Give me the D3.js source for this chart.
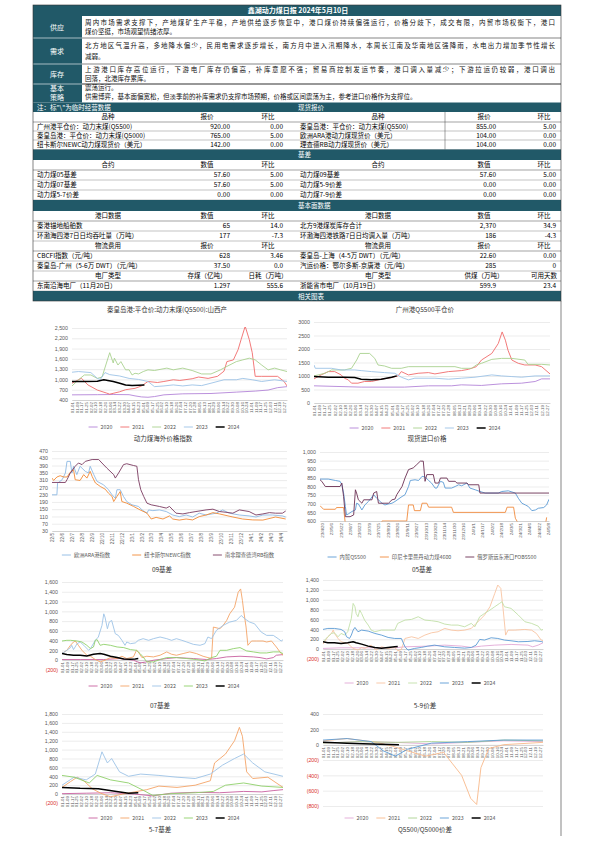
<!DOCTYPE html>
<html>
<head>
<meta charset="utf-8">
<script src="https://cdn.jsdelivr.net/npm/d3@7"></script>
<style>
body { margin: 0; background: #fff; }
svg { display: block; font-family: "Noto Sans CJK SC", "Noto Sans", sans-serif; }
</style>
</head>
<body>
<svg id="page" width="595" height="842"></svg>
<script>
// ---------- text of the report ----------
const reportTitle = "鑫湖动力煤日报 2024年5月10日";
const summaryLabels = [["供应"], ["需求"], ["库存"], ["基本", "策略"]];
const summaryLines = [
  ["周内市场需求支撑下，产地煤矿生产平稳，产地供给逐步恢复中，港口煤价持续偏强运行，价格分歧下，成交有限，内贸市场权衡下，港口", "煤价坚挺，市场观望情绪浓厚。"],
  ["北方地区气温升高，多地降水偏少，民用电需求逐步增长，南方月中进入汛期降水，本周长江南及华南地区强降雨，水电出力增加季节性增长", "减弱。"],
  ["上游港口库存高位运行，下游电厂库存仍偏高，补库意愿不强；贸易商控制发运节奏，港口调入量减少；下游拉运仍较弱，港口调出", "回落，北港库存累库。"],
  ["震荡运行。", "供需博弈，基本面偏宽松，但淡季前的补库需求仍支撑市场预期，价格或区间震荡为主，参考进口价格作为支撑位。"]
];
const noteText = "注：标\"\\\"为临时经营数据";

// ---------- tables ----------
const spotHead = ["品种", "报价", "环比"];
const spotRows = [
  ["广州港平仓价：动力末煤(Q5500)", "920.00", "0.00", "秦皇岛港：平仓价：动力末煤(Q5500)", "855.00", "5.00"],
  ["秦皇岛港：平仓价：动力末煤(Q5000)", "765.00", "5.00", "欧洲ARA港动力煤现货价（美元）", "104.00", "0.00"],
  ["纽卡斯尔NEWC动力煤现货价（美元）", "142.00", "0.00", "理查德RB动力煤现货价（美元）", "104.00", "0.00"]
];
const basisHead = ["合约", "数值", "环比"];
const basisRows = [
  ["动力煤05基差", "57.60", "5.00", "动力煤09基差", "57.60", "5.00"],
  ["动力煤07基差", "57.60", "5.00", "动力煤5-9价差", "0.00", "0.00"],
  ["动力煤5-7价差", "0.00", "0.00", "动力煤7-9价差", "0.00", "0.00"]
];
const portHead = ["港口数据", "数值", "环比"];
const portRows = [
  ["秦港锚地船舶数", "65", "14.0", "北方9港煤炭库存合计", "2,370", "34.9"],
  ["环渤海四港7日日均吞吐量（万吨）", "177", "-7.3", "环渤海四港铁路7日日均调入量（万吨）", "186", "-4.3"]
];
const freightHead = ["物流费用", "报价", "环比"];
const freightRows = [
  ["CBCFI指数（元/吨）", "628", "3.46", "秦皇岛-上海（4-5万 DWT）（元/吨）", "22.60", "0.00"],
  ["秦皇岛-广州（5-6万 DWT）（元/吨）", "37.50", "0.0", "汽运价格：鄂尔多斯-京唐港（元/吨）", "285", "0"]
];
const plantHeadL = ["电厂类型", "存煤（亿吨）", "日耗（万吨）"];
const plantHeadR = ["电厂类型", "供煤（万吨）", "可用天数"];
const plantRows = [
  ["东南沿海电厂（11月20日）", "1.297", "555.6", "浙能省市电厂（10月19日）", "599.9", "23.4"]
];

// ---------- chart data ----------
const seasonTicks = ["01-01","01-09","01-17","01-25","02-02","02-10","02-18","02-26","03-06","03-14","03-22","03-30","04-07","04-15","04-23","05-01","05-09","05-17","05-25","06-02","06-10","06-18","06-26","07-04","07-12","07-20","07-28","08-05","08-13","08-21","08-29","09-06","09-14","09-22","09-30","10-08","10-16","10-24","11-01","11-09","11-17","11-25","12-03","12-11","12-19","12-27"];
const years = ["2020", "2021", "2022", "2023", "2024"];

// 秦皇岛港 Q5500 山西产 [day of year, price]
const qhd2020 = [[0,550],[43,555],[70,560],[97,555],[107,520],[118,490],[129,480],[140,500],[156,550],[188,580],[236,590],[279,630],[311,660],[333,690],[349,760],[365,790]];
const qhd2021 = [[0,890],[16,1035],[27,840],[43,690],[59,600],[64,570],[81,640],[91,700],[107,740],[118,810],[129,940],[145,910],[156,940],[172,990],[183,970],[204,1020],[215,1070],[231,1030],[247,1090],[258,1240],[263,1520],[274,1570],[282,1870],[287,2160],[294,2550],[301,2160],[306,1780],[311,1090],[322,1090],[349,1090],[360,940],[365,810]];
const qhd2022 = [[0,810],[11,990],[21,1130],[32,1130],[43,1030],[51,1070],[64,1780],[70,1480],[72,1620],[78,1420],[83,1520],[91,1280],[97,1280],[102,1130],[107,1180],[113,1160],[121,1230],[129,1280],[140,1260],[161,1330],[172,1280],[188,1330],[204,1260],[220,1160],[236,1160],[252,1280],[263,1380],[279,1520],[290,1570],[301,1620],[311,1570],[322,1420],[333,1280],[344,1330],[354,1280],[365,1230]];
const qhd2023 = [[0,1210],[11,1230],[32,1200],[43,1030],[48,1000],[56,1200],[64,1140],[81,1100],[97,1030],[113,1000],[129,940],[140,790],[156,810],[172,840],[188,810],[204,840],[220,820],[236,890],[258,990],[279,990],[290,1030],[306,990],[322,940],[344,990],[365,940]];
const qhd2024 = [[0,940],[21,940],[43,950],[54,990],[70,940],[81,890],[91,840],[102,820],[113,830],[123,840]];

// 广州港 Q5500 平仓价
const gz2020 = [[0,636],[73,588],[140,588],[177,636],[213,636],[228,673],[259,650],[290,710],[321,734],[342,796],[352,893],[365,893]];
const gz2021 = [[0,893],[11,1040],[22,1163],[32,1163],[42,1040],[47,918],[53,857],[58,734],[68,734],[78,796],[89,796],[104,881],[120,942],[130,1004],[135,1163],[146,1040],[161,1101],[177,1126],[187,1077],[208,1163],[228,1200],[239,1248],[251,1346],[259,1591],[275,1836],[285,2203],[291,2632],[296,2326],[300,1958],[306,1591],[316,1469],[326,1408],[342,1408],[352,1346],[365,1077]];
const gz2022 = [[0,1004],[17,1101],[27,1224],[47,1224],[58,1285],[66,1591],[71,1836],[86,1836],[94,1652],[99,1408],[109,1371],[120,1285],[135,1285],[146,1346],[218,1346],[228,1285],[244,1285],[251,1408],[259,1469],[275,1616],[290,1652],[306,1652],[326,1591],[331,1432],[352,1432],[365,1408]];
const gz2023 = [[0,1408],[2,1285],[27,1285],[42,1224],[63,1224],[73,1200],[89,1163],[109,1126],[125,1101],[135,955],[146,857],[156,918],[187,918],[208,881],[228,918],[249,955],[275,1040],[290,1004],[306,979],[321,955],[342,1004],[365,1004]];
const gz2024 = [[0,979],[22,955],[47,955],[63,942],[73,881],[89,857],[104,881],[120,955],[128,1004]];

// 动力煤海外价格指数
const intlTicks = ["22/5","22/6","22/7","22/8","22/9","22/10","22/11","22/12","23/1","23/2","23/3","23/4","23/5","23/6","23/7","23/8","23/9","23/10","23/11","23/12","24/1","24/2","24/3","24/4"];
const intlNames = ["欧洲ARA港指数", "纽卡斯尔NEWC指数", "南非理查德湾RB指数"];
const intlAra = [["2022-05-01",229],["2022-05-16",229],["2022-05-18",293],["2022-06-01",312],["2022-06-11",349],["2022-06-16",413],["2022-06-26",413],["2022-07-01",349],["2022-07-06",386],["2022-07-16",340],["2022-07-26",386],["2022-08-11",358],["2022-08-21",349],["2022-08-26",386],["2022-09-06",340],["2022-09-16",303],["2022-10-06",284],["2022-10-21",257],["2022-11-01",229],["2022-11-11",210],["2022-11-16",257],["2022-11-26",257],["2022-12-06",220],["2022-12-16",192],["2023-01-01",174],["2023-01-21",165],["2023-02-01",146],["2023-02-16",128],["2023-02-21",146],["2023-03-06",142],["2023-03-26",146],["2023-04-16",137],["2023-05-06",118],["2023-05-26",109],["2023-06-16",118],["2023-07-06",107],["2023-07-26",128],["2023-08-16",118],["2023-09-16",128],["2023-10-06",146],["2023-10-26",128],["2023-11-26",118],["2023-12-26",113],["2024-01-16",107],["2024-02-06",118],["2024-03-06",118],["2024-04-06",113],["2024-04-16",107]];
const intlNewc = [["2022-05-01",321],["2022-05-06",308],["2022-05-16",327],["2022-05-26",334],["2022-06-06",327],["2022-06-16",327],["2022-06-26",353],["2022-07-06",367],["2022-07-11",312],["2022-07-26",308],["2022-08-06",340],["2022-08-16",321],["2022-08-26",358],["2022-09-01",330],["2022-09-11",294],["2022-09-26",275],["2022-10-11",260],["2022-10-21",238],["2022-11-01",220],["2022-11-06",192],["2022-11-16",220],["2022-11-26",247],["2022-12-01",192],["2022-12-16",183],["2023-01-06",165],["2023-01-26",146],["2023-02-16",128],["2023-03-01",96],["2023-03-16",105],["2023-04-06",96],["2023-04-26",113],["2023-05-06",96],["2023-05-26",90],["2023-06-16",96],["2023-07-06",91],["2023-07-26",109],["2023-08-16",118],["2023-09-06",131],["2023-09-26",124],["2023-11-06",107],["2023-12-06",96],["2024-01-06",91],["2024-02-06",90],["2024-03-16",107],["2024-04-16",96]];
const intlRb = [["2022-05-01",297],["2022-06-11",297],["2022-06-16",312],["2022-06-26",349],["2022-07-11",386],["2022-07-21",404],["2022-08-01",395],["2022-08-11",413],["2022-09-01",423],["2022-09-21",423],["2022-10-01",404],["2022-10-16",376],["2022-11-06",340],["2022-11-11",321],["2022-11-21",349],["2022-12-06",395],["2022-12-16",400],["2023-01-06",390],["2023-01-16",386],["2023-01-21",312],["2023-01-28",257],["2023-02-06",220],["2023-02-16",183],["2023-03-01",174],["2023-03-26",165],["2023-04-16",156],["2023-04-26",165],["2023-05-16",128],["2023-06-06",124],["2023-06-26",131],["2023-07-16",137],["2023-08-16",146],["2023-09-06",150],["2023-09-26",137],["2023-10-16",133],["2023-11-06",128],["2023-11-26",146],["2023-12-26",137],["2024-01-16",118],["2024-02-06",124],["2024-02-26",131],["2024-03-16",128],["2024-04-06",128],["2024-04-16",140]];

// 现货进口价格
const impTicks = ["23/4/20","23/5/6","23/5/22","23/6/7","23/6/23","23/7/9","23/7/25","23/8/10","23/8/26","23/9/11","23/9/27","23/10/13","23/10/29","23/11/14","23/11/30","23/12/16","24/1/1","24/1/17","24/2/2","24/2/18","24/3/5","24/3/21","24/4/6","24/4/22","24/5/8"];
const impNames = ["内贸Q5500", "印尼卡里曼丹动力煤4600", "俄罗斯远东港口FOB5500"];
const impDom = [["2023-04-17",843],["2023-05-01",843],["2023-05-13",835],["2023-05-21",830],["2023-05-24",810],["2023-05-27",762],["2023-05-30",684],["2023-06-01",635],["2023-06-04",641],["2023-06-10",655],["2023-06-16",664],["2023-06-18",703],["2023-06-21",699],["2023-06-27",664],["2023-07-02",693],["2023-07-08",713],["2023-07-17",752],["2023-07-22",732],["2023-07-28",713],["2023-07-31",703],["2023-08-05",693],["2023-08-11",699],["2023-08-17",703],["2023-08-22",713],["2023-09-03",742],["2023-09-08",752],["2023-09-14",800],["2023-09-17",835],["2023-09-25",839],["2023-10-01",835],["2023-10-07",859],["2023-10-12",855],["2023-10-18",835],["2023-10-23",820],["2023-10-29",791],["2023-11-01",791],["2023-11-07",830],["2023-11-12",824],["2023-11-15",791],["2023-11-26",791],["2023-12-02",800],["2023-12-08",810],["2023-12-13",804],["2023-12-22",820],["2023-12-27",791],["2024-01-05",781],["2024-01-13",771],["2024-01-22",762],["2024-02-13",762],["2024-02-19",771],["2024-03-01",775],["2024-03-13",762],["2024-03-18",732],["2024-03-24",703],["2024-03-30",693],["2024-04-04",684],["2024-04-10",660],["2024-04-16",664],["2024-04-21",674],["2024-04-30",678],["2024-05-05",693],["2024-05-09",726]];
const impIndo = [["2023-04-17",689],["2023-04-23",668],["2023-05-13",668],["2023-05-15",678],["2023-05-27",678],["2023-05-30",580],["2023-06-01",560],["2023-07-28",560],["2023-07-31",600],["2023-09-11",600],["2023-09-14",693],["2023-09-22",693],["2023-09-24",660],["2023-10-04",660],["2023-10-07",703],["2023-10-15",703],["2023-10-18",680],["2023-11-26",680],["2023-11-29",650],["2024-02-25",650],["2024-02-28",680],["2024-03-10",680],["2024-03-13",616],["2024-03-16",598],["2024-03-18",560],["2024-05-02",560],["2024-05-05",621]];
const impRus = [["2023-04-17",839],["2023-04-20",830],["2023-04-26",800],["2023-05-21",800],["2023-05-24",820],["2023-05-27",742],["2023-05-30",625],["2023-06-07",625],["2023-06-13",635],["2023-06-16",781],["2023-06-18",762],["2023-06-21",723],["2023-06-27",703],["2023-06-30",723],["2023-07-14",723],["2023-07-17",762],["2023-07-22",771],["2023-07-25",703],["2023-08-11",703],["2023-08-17",723],["2023-08-22",727],["2023-08-25",752],["2023-09-03",800],["2023-09-08",849],["2023-09-14",898],["2023-09-22",908],["2023-09-28",927],["2023-10-04",947],["2023-10-09",947],["2023-10-12",830],["2023-10-15",869],["2023-10-26",869],["2023-10-29",820],["2023-11-04",820],["2023-11-07",849],["2023-11-18",849],["2023-11-21",830],["2023-12-02",830],["2023-12-05",820],["2023-12-22",820],["2023-12-25",810],["2024-01-11",810],["2024-01-13",762],["2024-05-09",762]];

// 09基差
const b09_2020 = [[0,14],[30,14],[69,14],[96,34],[118,0],[129,-54],[140,-34],[151,0],[173,34],[189,54],[217,34],[239,14],[255,34],[272,68],[294,81],[316,68],[327,54],[338,27],[349,54],[354,102],[365,115]];
const b09_2021 = [[0,136],[8,203],[14,305],[19,373],[22,393],[27,305],[33,203],[41,102],[47,81],[55,14],[63,-34],[71,0],[80,54],[91,34],[99,81],[107,34],[118,68],[123,203],[126,170],[132,54],[140,81],[151,68],[162,102],[173,170],[181,122],[189,102],[200,136],[211,170],[222,136],[233,81],[241,54],[247,34],[250,678],[261,644],[266,712],[272,814],[277,949],[285,1085],[291,1390],[295,1458],[298,1220],[300,1017],[304,678],[307,305],[313,393],[321,393],[332,393],[338,373],[346,393],[354,271],[362,136],[365,102]];
const b09_2022 = [[0,136],[8,203],[14,258],[16,305],[19,217],[25,339],[30,373],[36,305],[44,203],[47,237],[55,407],[60,475],[66,712],[69,949],[71,881],[75,644],[78,780],[82,814],[88,542],[93,508],[99,407],[104,305],[107,373],[113,339],[121,353],[126,407],[134,441],[143,407],[151,441],[162,475],[173,441],[181,407],[189,441],[198,407],[206,373],[217,325],[228,305],[236,339],[241,475],[247,441],[255,610],[266,712],[277,780],[288,814],[296,915],[302,847],[310,780],[318,746],[329,576],[338,508],[349,508],[357,441],[362,393],[365,420]];
const b09_2023 = [[0,393],[8,407],[14,407],[25,393],[33,373],[41,305],[47,237],[52,271],[55,407],[58,420],[63,305],[69,325],[80,305],[91,271],[102,258],[113,217],[123,203],[129,136],[134,68],[140,-34],[151,-34],[162,14],[173,54],[189,54],[206,34],[222,14],[236,-14],[247,54],[255,81],[261,203],[272,203],[283,237],[294,258],[305,190],[316,170],[327,149],[338,149],[349,170],[359,170],[365,136]];
const b09_2024 = [[0,136],[8,115],[19,102],[30,102],[41,88],[52,122],[63,136],[69,122],[80,81],[91,54],[102,27],[113,20],[121,27],[126,34]];

// 05基差
const b05_2020 = [[0,14],[30,27],[119,27],[136,47],[174,61],[202,81],[230,61],[246,34],[263,61],[285,81],[312,95],[340,81],[348,47],[357,81],[365,128]];
const b05_2021 = [[0,101],[8,250],[14,318],[17,385],[19,318],[25,216],[30,149],[41,115],[50,14],[58,-20],[64,34],[69,14],[80,81],[88,-20],[97,47],[108,14],[119,34],[124,-34],[130,-7],[136,216],[147,250],[158,216],[169,284],[180,331],[191,352],[202,419],[213,385],[224,372],[235,385],[246,419],[254,521],[260,588],[268,690],[277,859],[285,1129],[290,1298],[295,1230],[299,791],[303,284],[307,385],[318,385],[335,399],[346,385],[354,318],[362,183],[365,169]];
const b05_2022 = [[0,149],[8,250],[14,318],[19,331],[25,250],[30,318],[36,284],[41,352],[44,487],[47,622],[50,926],[53,859],[55,723],[58,656],[61,791],[64,723],[69,588],[75,487],[80,385],[86,352],[97,385],[108,385],[119,385],[124,521],[136,588],[147,602],[158,656],[169,588],[180,575],[191,555],[202,507],[213,487],[224,487],[235,453],[246,521],[252,453],[260,656],[268,723],[277,791],[285,859],[293,926],[297,960],[301,859],[312,825],[324,690],[335,555],[346,521],[357,466],[362,385],[365,399]];
const b05_2023 = [[0,399],[8,419],[19,419],[30,399],[36,352],[39,250],[44,216],[47,284],[50,385],[53,439],[58,352],[64,385],[75,365],[86,318],[97,284],[108,237],[119,216],[130,216],[136,47],[141,-20],[152,14],[163,34],[174,61],[185,81],[202,47],[218,34],[235,20],[246,34],[254,81],[260,196],[268,183],[279,230],[290,216],[301,183],[312,169],[324,149],[340,155],[351,169],[362,155],[365,142]];
const b05_2024 = [[0,149],[8,128],[19,128],[30,115],[41,128],[50,149],[55,128],[64,101],[75,61],[86,34],[97,20],[108,34],[119,47],[124,54]];

// 07基差
const b07_2020 = [[0,10],[40,20],[80,30],[120,0],[150,-40],[180,20],[220,40],[260,30],[300,60],[330,50],[350,80],[365,100]];
const b07_2021 = [[0,150],[14,280],[25,380],[36,300],[50,120],[64,20],[80,-60],[100,0],[120,50],[140,100],[160,180],[190,150],[220,200],[245,300],[252,700],[270,900],[285,1200],[293,1500],[298,1300],[305,500],[315,350],[340,380],[365,150]];
const b07_2022 = [[0,200],[20,380],[40,320],[55,450],[66,950],[75,700],[82,800],[95,500],[110,400],[130,450],[160,420],[190,380],[220,350],[245,450],[265,650],[285,800],[300,900],[315,700],[335,500],[365,400]];
const b07_2023 = [[0,420],[20,380],[45,250],[58,420],[80,320],[110,250],[135,80],[150,-30],[180,10],[220,30],[250,60],[270,200],[300,250],[330,180],[365,150]];
const b07_2024 = [[0,150],[30,130],[60,120],[90,60],[110,20],[126,30]];

// 5-9价差
const p59_2020 = [[0,20],[60,40],[120,30],[180,10],[240,30],[300,50],[365,40]];
const p59_2021 = [[0,50],[40,80],[90,30],[115,-20],[140,-80],[170,-150],[200,-100],[215,-250],[230,-400],[245,-700],[255,-780],[262,-300],[275,-50],[300,0],[365,30]];
const p59_2022 = [[0,20],[60,40],[120,30],[180,40],[240,30],[300,60],[365,50]];
const p59_2023 = [[0,60],[40,80],[80,40],[100,-80],[120,-150],[140,-60],[180,20],[240,40],[300,60],[365,60]];
const p59_2024 = [[0,30],[40,20],[80,10],[126,0]];

// ---------- drawing ----------
const svg = d3.select("#page");
const teal = "#215968";
const L = 33, R = 561;
const fs = "6.5px";

// title bar
svg.append("rect").attr("x", L).attr("y", 5).attr("width", R - L).attr("height", 11).attr("fill", teal);
svg.append("text").attr("x", 298).attr("y", 13).attr("text-anchor", "middle").attr("fill", "#fff")
  .style("font-size", "7px").style("font-weight", "bold").text(reportTitle);

// summary rows
const sumRows = [[16, 38], [38, 64], [64, 84], [84, 102.5]];
const sumLineY = [[25, 34], [47.5, 58.5], [71.5, 80.5], [90, 99]];
svg.append("rect").attr("x", L).attr("y", 16).attr("width", 49).attr("height", 86.5).attr("fill", teal);
sumRows.forEach((r, i) => {
  const lab = summaryLabels[i];
  const cy = (r[0] + r[1]) / 2;
  lab.forEach((t, j) => {
    svg.append("text").attr("x", 57).attr("y", cy + 2.5 + (j - (lab.length - 1) / 2) * 9)
      .attr("text-anchor", "middle").attr("fill", "#fff").style("font-size", "7px").text(t);
  });
  summaryLines[i].forEach((t, j) => {
    const tx = svg.append("text").attr("x", 85).attr("y", sumLineY[i][j]).style("font-size", fs).attr("fill", "#111").text(t);
    if (j === 0 && i < 3) tx.attr("textLength", 470).attr("lengthAdjust", "spacing");
  });
  if (i > 0) {
    svg.append("line").attr("x1", L).attr("x2", 82).attr("y1", r[0]).attr("y2", r[0]).attr("stroke", "#fff").attr("stroke-width", 0.6);
    svg.append("line").attr("x1", 82).attr("x2", R).attr("y1", r[0]).attr("y2", r[0])
      .attr("stroke", "#333").attr("stroke-width", i === 3 ? 1.2 : 0.6);
  }
});

// section bars
function bar(y0, y1, label, note) {
  svg.append("rect").attr("x", L).attr("y", y0).attr("width", R - L).attr("height", y1 - y0).attr("fill", teal);
  svg.append("text").attr("x", 298).attr("y", (y0 + y1) / 2 + 2.5).attr("fill", "#fff").style("font-size", fs).text(label);
  if (note) svg.append("text").attr("x", 37).attr("y", (y0 + y1) / 2 + 2.5).attr("fill", "#fff").style("font-size", fs).text(note);
}
const colL = { name: 37, val: 230, chg: 283, hName: 108, hVal: 207, hChg: 268 };
const colR = { name: 300, val: 496, chg: 556, hName: 378, hVal: 484, hChg: 544 };
function headRow(y0, y1, headL, headR) {
  const yy = (y0 + y1) / 2 + 2.4;
  [[colL, headL], [colR, headR]].forEach(([c, h]) => {
    svg.append("text").attr("x", c.hName).attr("y", yy).attr("text-anchor", "middle").style("font-size", fs).text(h[0]);
    svg.append("text").attr("x", c.hVal).attr("y", yy).attr("text-anchor", "middle").style("font-size", fs).text(h[1]);
    svg.append("text").attr("x", c.hChg).attr("y", yy).attr("text-anchor", "middle").style("font-size", fs).text(h[2]);
  });
  svg.append("line").attr("x1", L).attr("x2", R).attr("y1", y1).attr("y2", y1).attr("stroke", "#444").attr("stroke-width", 0.5);
}
function dataRow(y0, y1, row) {
  const yy = (y0 + y1) / 2 + 2.4;
  [[colL, row.slice(0, 3)], [colR, row.slice(3)]].forEach(([c, r]) => {
    svg.append("text").attr("x", c.name).attr("y", yy).style("font-size", fs).text(r[0]);
    svg.append("text").attr("x", c.val).attr("y", yy).attr("text-anchor", "end").style("font-size", fs).text(r[1]);
    svg.append("text").attr("x", c.chg).attr("y", yy).attr("text-anchor", "end").style("font-size", fs).text(r[2]);
  });
  svg.append("line").attr("x1", L).attr("x2", R).attr("y1", y1).attr("y2", y1).attr("stroke", "#666").attr("stroke-width", 0.4);
}

bar(102.5, 112, "现货报价", noteText);
headRow(112, 122, spotHead, spotHead);
dataRow(122, 131, spotRows[0]);
dataRow(131, 140, spotRows[1]);
dataRow(140, 149.5, spotRows[2]);
svg.append("line").attr("x1", 445).attr("x2", 445).attr("y1", 112).attr("y2", 149.5).attr("stroke", "#444").attr("stroke-width", 0.5);
bar(149.5, 160, "基差");
headRow(160, 170, basisHead, basisHead);
dataRow(170, 180, basisRows[0]);
dataRow(180, 190, basisRows[1]);
dataRow(190, 200, basisRows[2]);
bar(200, 211, "基本面数据");
headRow(211, 221, portHead, portHead);
dataRow(221, 231, portRows[0]);
dataRow(231, 241, portRows[1]);
headRow(241, 251, freightHead, freightHead);
dataRow(251, 261, freightRows[0]);
dataRow(261, 271, freightRows[1]);
headRow(271, 281, plantHeadL, plantHeadR);
dataRow(281, 291, plantRows[0]);
bar(291, 301, "相关图表");

// frame
svg.append("rect").attr("x", L).attr("y", 5).attr("width", R - L).attr("height", 296).attr("fill", "none").attr("stroke", "#333").attr("stroke-width", 0.6);
svg.append("line").attr("x1", R).attr("x2", R).attr("y1", 301).attr("y2", 836).attr("stroke", "#333").attr("stroke-width", 0.6);

// ---------- chart helpers ----------
const numFmt = d => d < 0 ? "(" + d3.format(",")(-d) + ")" : d3.format(",")(d);
const parseMD = d3.timeParse("%Y-%m-%d");
const dayOf = s => d3.timeDay.count(new Date(2021, 0, 1), parseMD("2021-" + s));
const tickDays = seasonTicks.map(dayOf);

function chartTitle(text, x, y) {
  svg.append("text").attr("x", x).attr("y", y).attr("text-anchor", "middle").style("font-size", "6.5px").attr("fill", "#333").text(text);
}

function legend(cx, y, items, gap) {
  const g = svg.append("g");
  let xx = 0;
  items.forEach(it => {
    const gi = g.append("g").attr("transform", `translate(${xx},0)`);
    gi.append("line").attr("x1", 0).attr("x2", 9).attr("stroke", it.color).attr("stroke-width", it.width);
    const t = gi.append("text").attr("x", 12).attr("y", 2).style("font-size", "5.3px").attr("fill", "#595959").text(it.name);
    xx += 12 + t.node().getComputedTextLength() + gap;
  });
  g.attr("transform", `translate(${cx - (xx - gap) / 2},${y})`);
}

let clipId = 0;
function drawChart(o) {
  const g = svg.append("g");
  const [x0, x1] = o.x.range();
  const [yb, yt] = o.y.range();
  // grid + y labels
  g.append("g").attr("transform", `translate(${x0},0)`)
    .call(d3.axisLeft(o.y).tickValues(o.yTicks).tickSize(-(x1 - x0)).tickFormat(o.yFmt))
    .call(s => {
      s.select(".domain").remove();
      s.selectAll("line").attr("stroke", "#d9d9d9").attr("stroke-width", 0.5);
      s.selectAll("text").attr("x", -4).style("font-size", "5.3px").style("font-family", "'Liberation Sans', sans-serif")
        .attr("fill", d => d < 0 ? "#d9302c" : "#595959");
    });
  // x axis
  g.append("g").attr("transform", `translate(0,${o.axisY})`)
    .call(d3.axisBottom(o.x).tickValues(o.xTicks).tickFormat((d, i) => o.xLabels[i]).tickSize(0))
    .call(s => {
      s.select(".domain").attr("stroke", "#bfbfbf").attr("stroke-width", 0.6);
      s.selectAll("text").attr("transform", "rotate(-90)").attr("text-anchor", "end")
        .attr("x", -2).attr("y", 0).attr("dy", "0.32em")
        .style("font-size", o.xFont || "4.4px").style("font-family", "'Liberation Sans', sans-serif").attr("fill", "#595959");
    });
  // lines
  const id = "clip" + (clipId++);
  g.append("clipPath").attr("id", id).append("rect")
    .attr("x", x0).attr("y", yt - 1).attr("width", x1 - x0).attr("height", yb - yt + 1.5);
  const line = d3.line().x(d => o.x(o.xv(d))).y(d => o.y(d[1]));
  const lg = g.append("g").attr("clip-path", `url(#${id})`);
  o.series.forEach(s => {
    lg.append("path").attr("d", line(s.data)).attr("fill", "none")
      .attr("stroke", s.color).attr("stroke-width", s.width).attr("stroke-linejoin", "round");
  });
  legend(o.legendX, o.legendY, o.series, o.legendGap);
  chartTitle(o.title, o.titleX, o.titleY);
}

function seasonSeries(arrs, colors) {
  return arrs.map((a, i) => ({ name: years[i], data: a, color: colors[i], width: i === 4 ? 1.5 : 0.9 }));
}
const dayX = d => d[0];
const dateX = d => parseMD(d[0]);

// chart 1
drawChart({
  x: d3.scaleLinear().domain([0, 365]).range([72, 287]),
  y: d3.scaleLinear().domain([400, 2500]).range([400, 328]),
  yTicks: d3.range(400, 2501, 300), yFmt: numFmt, axisY: 400,
  xTicks: tickDays, xLabels: seasonTicks, xv: dayX,
  series: seasonSeries([qhd2020, qhd2021, qhd2022, qhd2023, qhd2024], ["#b385d8", "#f06b6b", "#a9d18e", "#9dc3e6", "#000"]),
  legendX: 164, legendY: 427, legendGap: 8,
  title: "秦皇岛港:平仓价:动力末煤(Q5500):山西产", titleX: 167, titleY: 312
});
// chart 2
drawChart({
  x: d3.scaleLinear().domain([0, 365]).range([314, 550]),
  y: d3.scaleLinear().domain([0, 3000]).range([403, 322]),
  yTicks: d3.range(0, 3001, 500), yFmt: d3.format("d"), axisY: 403,
  xTicks: tickDays, xLabels: seasonTicks, xv: dayX,
  series: seasonSeries([gz2020, gz2021, gz2022, gz2023, gz2024], ["#b385d8", "#f06b6b", "#a9d18e", "#9dc3e6", "#000"]),
  legendX: 425, legendY: 428, legendGap: 8,
  title: "广州港Q5500平仓价", titleX: 425, titleY: 312
});
// chart 3
drawChart({
  x: d3.scaleTime().domain([parseMD("2022-05-01"), parseMD("2024-04-20")]).range([52, 287]),
  y: d3.scaleLinear().domain([30, 470]).range([531, 451]),
  yTicks: d3.range(30, 471, 40), yFmt: d3.format("d"), axisY: 531,
  xTicks: intlTicks.map(d3.timeParse("%y/%m")), xLabels: intlTicks, xv: dateX, xFont: "4.6px",
  series: [
    { name: intlNames[0], data: intlAra, color: "#8db9e3", width: 0.9 },
    { name: intlNames[1], data: intlNewc, color: "#f28a35", width: 0.9 },
    { name: intlNames[2], data: intlRb, color: "#7b3a60", width: 0.9 }
  ],
  legendX: 168, legendY: 555, legendGap: 22,
  title: "动力煤海外价格指数", titleX: 163, titleY: 441
});
// chart 4
drawChart({
  x: d3.scaleTime().domain([parseMD("2023-04-17"), parseMD("2024-05-09")]).range([320, 549]),
  y: d3.scaleLinear().domain([600, 1000]).range([521, 452]),
  yTicks: d3.range(600, 1001, 50), yFmt: numFmt, axisY: 521,
  xTicks: impTicks.map(d3.timeParse("%y/%m/%d")), xLabels: impTicks, xv: dateX, xFont: "4.4px",
  series: [
    { name: impNames[0], data: impDom, color: "#5b9bd5", width: 0.9 },
    { name: impNames[1], data: impIndo, color: "#f08a3c", width: 0.9 },
    { name: impNames[2], data: impRus, color: "#6b2f52", width: 0.9 }
  ],
  legendX: 432, legendY: 557, legendGap: 14,
  title: "现货进口价格", titleX: 427, titleY: 441
});
// chart 5: 09基差
drawChart({
  x: d3.scaleLinear().domain([0, 365]).range([62, 283]),
  y: d3.scaleLinear().domain([-200, 1600]).range([670, 582]),
  yTicks: d3.range(-200, 1601, 200), yFmt: numFmt, axisY: 660,
  xTicks: tickDays, xLabels: seasonTicks, xv: dayX,
  series: seasonSeries([b09_2020, b09_2021, b09_2022, b09_2023, b09_2024], ["#c8609f", "#f4a468", "#9dc3e6", "#8fd06a", "#000"]),
  legendX: 164, legendY: 686, legendGap: 8,
  title: "09基差", titleX: 162, titleY: 572
});
// chart 6: 05基差
drawChart({
  x: d3.scaleLinear().domain([0, 365]).range([323, 543]),
  y: d3.scaleLinear().domain([-200, 1400]).range([659, 580]),
  yTicks: d3.range(-200, 1401, 200), yFmt: numFmt, axisY: 649,
  xTicks: tickDays, xLabels: seasonTicks, xv: dayX,
  series: seasonSeries([b05_2020, b05_2021, b05_2022, b05_2023, b05_2024], ["#e2a8d6", "#f8c4a2", "#c2e0a8", "#5b9bd5", "#000"]),
  legendX: 420, legendY: 683, legendGap: 8,
  title: "05基差", titleX: 422, titleY: 572
});
// chart 7: 07基差
drawChart({
  x: d3.scaleLinear().domain([0, 365]).range([62, 283]),
  y: d3.scaleLinear().domain([-200, 1800]).range([803, 714]),
  yTicks: d3.range(-200, 1801, 200), yFmt: numFmt, axisY: 794,
  xTicks: tickDays, xLabels: seasonTicks, xv: dayX,
  series: seasonSeries([b07_2020, b07_2021, b07_2022, b07_2023, b07_2024], ["#c8609f", "#f4a468", "#9dc3e6", "#8fd06a", "#000"]),
  legendX: 164, legendY: 818, legendGap: 8,
  title: "07基差", titleX: 160, titleY: 708
});
chartTitle("5-7基差", 160, 832);
// chart 8: 5-9价差
drawChart({
  x: d3.scaleLinear().domain([0, 365]).range([323, 543]),
  y: d3.scaleLinear().domain([-800, 400]).range([806, 714]),
  yTicks: d3.range(-800, 401, 200), yFmt: numFmt, axisY: 745,
  xTicks: tickDays, xLabels: seasonTicks, xv: dayX,
  series: seasonSeries([p59_2020, p59_2021, p59_2022, p59_2023, p59_2024], ["#e2a8d6", "#f8b98a", "#a9d18e", "#5b9bd5", "#000"]),
  legendX: 420, legendY: 818, legendGap: 8,
  title: "5-9价差", titleX: 425, titleY: 708
});
chartTitle("Q5500/Q5000价差", 425, 832);
</script>
</body>
</html>
